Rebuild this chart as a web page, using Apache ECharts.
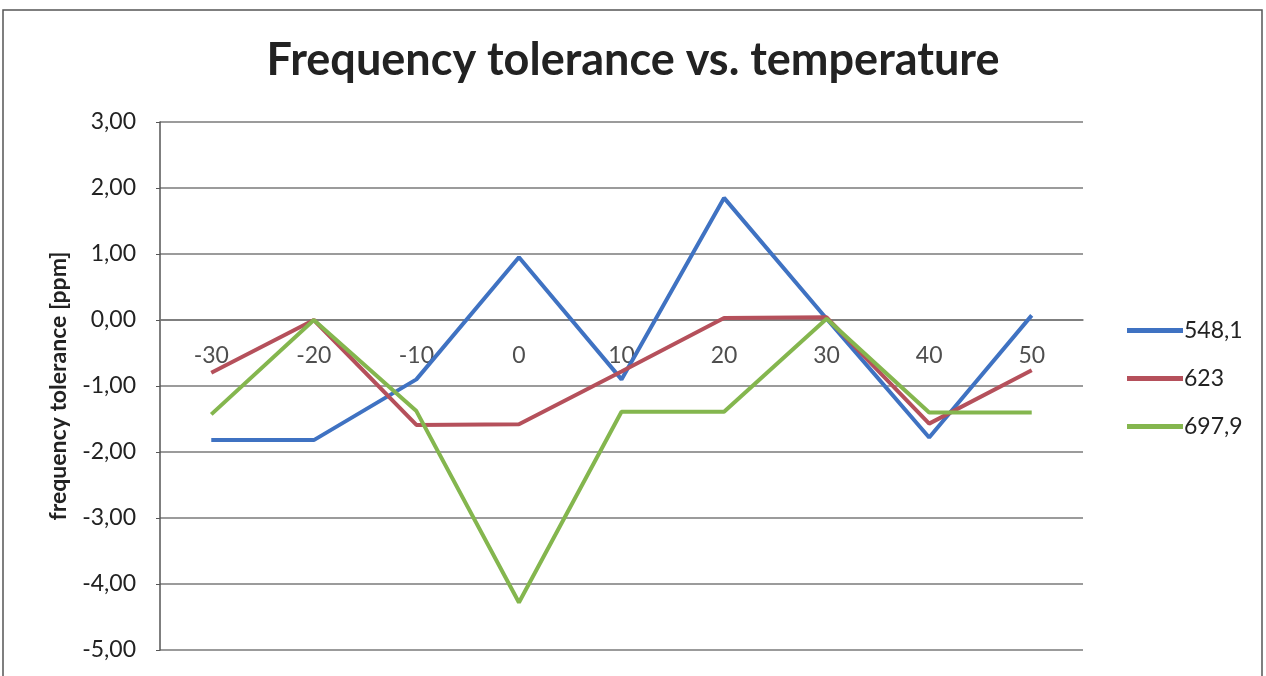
<!DOCTYPE html>
<html>
<head>
<meta charset="utf-8">
<script src="https://cdn.jsdelivr.net/npm/echarts@6/dist/echarts.min.js"></script>
<style>
html,body{margin:0;padding:0;background:#fff;}
#c{width:1266px;height:676px;}
</style>
</head>
<body>
<div id="c"></div>
<script>
const categories = ['-30','-20','-10','0','10','20','30','40','50'];
const seriesNames = ['548,1','623','697,9'];
const s548 = [-1.82, -1.82, -0.90, 0.95, -0.90, 1.85, 0.02, -1.78, 0.07];
const s623 = [-0.80, 0.00, -1.59, -1.58, -0.78, 0.03, 0.04, -1.57, -0.76];
const s697 = [-1.43, 0.00, -1.38, -4.28, -1.39, -1.39, 0.02, -1.40, -1.40];
const colors = ['#3F72C2', '#B5505B', '#84B64E'];
const FONT = 'Lato, "Open Sans", sans-serif';

const chart = echarts.init(document.getElementById('c'), null, {renderer:'canvas'});
const mk = (name, data, color) => ({
  name, type:'line', data, symbol:'none', smooth:false, z:3,
  lineStyle:{color, width:4}, itemStyle:{color}
});
chart.setOption({
  backgroundColor:'#fff',
  animation:false,
  graphic:[{type:'rect', shape:{x:3,y:10,width:1259,height:700}, style:{fill:'none', stroke:'#555', lineWidth:1.5}, silent:true}],
  title:{text:'Frequency tolerance vs. temperature', left:'center', top:33,
    textStyle:{fontFamily:FONT, fontWeight:'bold', fontSize:45, color:'#222'}},
  legend:{orient:'vertical', left:1122, top:314, itemWidth:56, itemHeight:14, itemGap:25,
    data:seriesNames.map(n=>({name:n, icon:'path://M0,5 L56,5 L56,10 L0,10 Z'})),
    textStyle:{fontFamily:FONT, fontSize:23, color:'#222', padding:[0,0,0,-4]}},
  grid:{left:160, right:183, top:122, bottom:26, containLabel:false, outerBoundsMode:'none'},
  xAxis:{type:'category', data:categories, boundaryGap:true,
    axisLine:{show:true, onZero:true, lineStyle:{color:'#777', width:1.5}},
    axisTick:{show:false},
    axisLabel:{show:false},
    splitLine:{show:false}},
  yAxis:{type:'value', min:-5, max:3, interval:1,
    name:'frequency tolerance [ppm]', nameLocation:'middle', nameGap:90, nameRotate:90,
    nameTextStyle:{fontFamily:FONT, fontWeight:'bold', fontSize:23, color:'#222'},
    axisLine:{show:true, lineStyle:{color:'#555', width:1.5}},
    axisTick:{show:true, length:4, inside:false, lineStyle:{color:'#555'}},
    axisLabel:{fontFamily:FONT, fontSize:23, color:'#222', margin:24,
      formatter:v=>v.toFixed(2).replace('.',',')},
    splitLine:{show:true, lineStyle:{color:'#7a7a7a', width:1.5}}},
  series:[
    mk(seriesNames[0], s548, colors[0]),
    mk(seriesNames[1], s623, colors[1]),
    mk(seriesNames[2], s697, colors[2]),
    {name:'xlabels', type:'scatter', silent:true, z:2, symbolSize:0,
     data:categories.map(c=>[c,0]),
     label:{show:true, position:'bottom', distance:24, formatter:p=>categories[p.dataIndex],
       fontFamily:FONT, fontSize:23, color:'#222'}}
  ]
});
</script>
</body>
</html>
